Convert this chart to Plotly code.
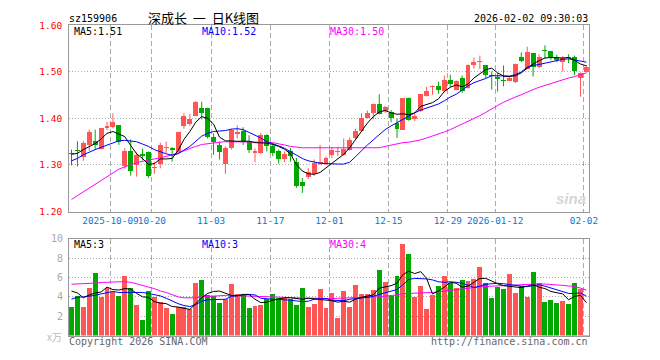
import plotly.graph_objects as go

# ---------------- data ----------------
tick_labels = ["2025-10-09", "10-20", "11-03", "11-17", "12-01", "12-15", "12-29", "2026-01-12", "02-02"]
tick_index = [7, 14, 24, 34, 44, 54, 64, 72, 87]

opens = [1.325, 1.332, 1.317, 1.342, 1.351, 1.335, 1.379, 1.382, 1.386, 1.297,
         1.331, 1.299, 1.324, 1.328, 1.294, 1.303, 1.336, 1.337, 1.328, 1.383,
         1.388, 1.406, 1.422, 1.422, 1.360, 1.342, 1.303, 1.336, 1.367, 1.374,
         1.350, 1.325, 1.326, 1.365, 1.340, 1.331, 1.312, 1.329, 1.307, 1.263,
         1.275, 1.281, 1.303, 1.303, 1.322, 1.327, 1.322, 1.333, 1.358, 1.374,
         1.402, 1.412, 1.431, 1.416, 1.414, 1.390, 1.376, 1.444, 1.399, 1.416,
         1.449, 1.467, 1.469, 1.458, 1.483, 1.462, 1.488, 1.465, 1.515, 1.522,
         1.514, 1.494, 1.490, 1.482, 1.481, 1.478, 1.533, 1.507, 1.540, 1.510,
         1.548, 1.544, 1.531, 1.521, 1.532, 1.533, 1.488, 1.500]
highs = [1.333, 1.351, 1.351, 1.376, 1.376, 1.380, 1.393, 1.411, 1.386, 1.336,
         1.355, 1.327, 1.335, 1.329, 1.307, 1.348, 1.350, 1.339, 1.371, 1.411,
         1.410, 1.437, 1.436, 1.423, 1.368, 1.350, 1.340, 1.378, 1.385, 1.381,
         1.364, 1.336, 1.369, 1.366, 1.346, 1.333, 1.329, 1.336, 1.315, 1.272,
         1.293, 1.312, 1.343, 1.318, 1.338, 1.339, 1.357, 1.359, 1.378, 1.411,
         1.417, 1.432, 1.452, 1.427, 1.418, 1.400, 1.444, 1.445, 1.410, 1.452,
         1.468, 1.471, 1.479, 1.492, 1.494, 1.482, 1.492, 1.516, 1.531, 1.535,
         1.514, 1.501, 1.497, 1.514, 1.490, 1.518, 1.542, 1.554, 1.540, 1.538,
         1.557, 1.544, 1.537, 1.534, 1.538, 1.535, 1.499, 1.515]
lows = [1.299, 1.297, 1.309, 1.330, 1.333, 1.333, 1.375, 1.379, 1.343, 1.292,
        1.277, 1.275, 1.310, 1.272, 1.281, 1.293, 1.325, 1.307, 1.327, 1.378,
        1.384, 1.405, 1.398, 1.357, 1.322, 1.312, 1.281, 1.333, 1.357, 1.343,
        1.326, 1.306, 1.324, 1.329, 1.319, 1.303, 1.306, 1.307, 1.251, 1.240,
        1.270, 1.277, 1.300, 1.300, 1.315, 1.319, 1.320, 1.331, 1.355, 1.372,
        1.400, 1.398, 1.409, 1.412, 1.392, 1.358, 1.375, 1.395, 1.394, 1.414,
        1.447, 1.451, 1.453, 1.456, 1.468, 1.460, 1.455, 1.464, 1.507, 1.506,
        1.487, 1.462, 1.458, 1.469, 1.480, 1.476, 1.521, 1.506, 1.490, 1.508,
        1.529, 1.526, 1.521, 1.501, 1.519, 1.493, 1.447, 1.499]
closes = [1.323, 1.329, 1.347, 1.370, 1.344, 1.379, 1.383, 1.393, 1.349, 1.331,
          1.287, 1.322, 1.319, 1.276, 1.296, 1.342, 1.339, 1.333, 1.371, 1.406,
          1.399, 1.436, 1.411, 1.361, 1.350, 1.327, 1.336, 1.376, 1.371, 1.351,
          1.333, 1.329, 1.365, 1.340, 1.326, 1.312, 1.324, 1.319, 1.255, 1.255,
          1.284, 1.305, 1.307, 1.314, 1.333, 1.329, 1.335, 1.353, 1.374, 1.402,
          1.412, 1.431, 1.410, 1.424, 1.400, 1.378, 1.444, 1.397, 1.406, 1.452,
          1.460, 1.469, 1.461, 1.483, 1.473, 1.481, 1.458, 1.515, 1.521, 1.524,
          1.493, 1.492, 1.485, 1.480, 1.488, 1.517, 1.523, 1.542, 1.510, 1.533,
          1.546, 1.533, 1.526, 1.530, 1.530, 1.501, 1.498, 1.510]
volumes = [3.0, 4.1, 2.9, 4.9, 6.5, 4.0, 4.9, 4.5, 4.1, 6.2,
           4.9, 3.2, 1.6, 4.6, 4.0, 3.5, 2.8, 2.2, 2.9, 3.0,
           2.7, 5.4, 5.7, 4.2, 4.1, 3.4, 3.8, 5.3, 4.3, 4.2,
           2.8, 3.1, 3.2, 3.8, 4.3, 3.9, 3.9, 3.8, 3.2, 4.9,
           3.0, 3.3, 4.8, 2.8, 4.4, 1.8, 4.6, 2.9, 5.2, 4.3,
           4.3, 4.7, 6.8, 5.5, 4.1, 6.2, 9.4, 8.4, 4.0, 5.1,
           2.7, 4.2, 5.1, 6.2, 5.4, 4.9, 5.7, 5.6, 5.8, 7.1,
           5.4, 3.9, 5.0, 4.8, 6.4, 4.4, 5.1, 4.0, 6.6, 5.4,
           3.5, 3.7, 3.4, 3.6, 3.3, 5.4, 4.8, 0.1]

ma5 = [1.323, 1.325, 1.333, 1.340, 1.346, 1.356, 1.368, 1.372, 1.367, 1.361,
       1.342, 1.324, 1.314, 1.301, 1.303, 1.313, 1.313, 1.314, 1.331, 1.355,
       1.372, 1.392, 1.404, 1.400, 1.388, 1.360, 1.352, 1.351, 1.351, 1.351,
       1.351, 1.348, 1.347, 1.347, 1.344, 1.340, 1.334, 1.324, 1.301, 1.287,
       1.281, 1.280, 1.284, 1.294, 1.305, 1.315, 1.323, 1.337, 1.355, 1.372,
       1.390, 1.404, 1.414, 1.417, 1.412, 1.409, 1.410, 1.408, 1.412, 1.426,
       1.430, 1.434, 1.442, 1.458, 1.467, 1.472, 1.468, 1.474, 1.487, 1.497,
       1.505, 1.508, 1.498, 1.491, 1.490, 1.492, 1.498, 1.508, 1.517, 1.524,
       1.530, 1.531, 1.530, 1.530, 1.531, 1.525, 1.517, 1.513]
ma10 = [1.309, 1.314, 1.322, 1.328, 1.333, 1.338, 1.343, 1.348, 1.352, 1.353,
        1.352, 1.350, 1.345, 1.340, 1.333, 1.328, 1.324, 1.321, 1.324, 1.332,
        1.340, 1.351, 1.362, 1.368, 1.372, 1.373, 1.374, 1.377, 1.378, 1.376,
        1.370, 1.364, 1.358, 1.350, 1.346, 1.341, 1.336, 1.329, 1.322, 1.314,
        1.309, 1.306, 1.304, 1.303, 1.302, 1.302, 1.302, 1.306, 1.318, 1.331,
        1.343, 1.354, 1.366, 1.376, 1.384, 1.391, 1.399, 1.406, 1.412, 1.418,
        1.422, 1.426, 1.431, 1.438, 1.446, 1.452, 1.462, 1.470, 1.477, 1.481,
        1.486, 1.492, 1.492, 1.491, 1.491, 1.494, 1.500, 1.510, 1.514, 1.516,
        1.519, 1.522, 1.525, 1.527, 1.528, 1.526, 1.523, 1.521]
ma30 = [1.226, 1.234, 1.242, 1.250, 1.258, 1.266, 1.274, 1.283, 1.291, 1.296,
        1.301, 1.305, 1.308, 1.311, 1.313, 1.315, 1.318, 1.322, 1.326, 1.331,
        1.336, 1.340, 1.344, 1.346, 1.347, 1.349, 1.350, 1.350, 1.350, 1.350,
        1.350, 1.350, 1.350, 1.349, 1.348, 1.346, 1.343, 1.340, 1.338, 1.337,
        1.337, 1.337, 1.337, 1.337, 1.337, 1.337, 1.337, 1.337, 1.337, 1.337,
        1.337, 1.337, 1.337, 1.340, 1.343, 1.346, 1.348, 1.349, 1.351, 1.354,
        1.358, 1.362, 1.366, 1.371, 1.376, 1.382, 1.387, 1.393, 1.399, 1.406,
        1.413, 1.421, 1.428, 1.435, 1.441, 1.446, 1.451, 1.457, 1.462, 1.467,
        1.471, 1.476, 1.480, 1.484, 1.487, 1.490, 1.494, 1.498]

vma5 = [4.60, 4.40, 3.90, 4.20, 4.40, 4.50, 5.00, 4.75, 4.70, 4.85,
        4.80, 4.35, 4.00, 3.95, 3.50, 3.35, 3.30, 3.00, 2.95, 2.80,
        2.70, 3.30, 3.90, 4.35, 4.55, 4.60, 4.35, 4.15, 4.10, 4.25,
        4.25, 3.75, 3.40, 3.45, 3.65, 3.80, 3.90, 3.90, 3.85, 3.75,
        3.85, 3.80, 3.70, 3.65, 3.60, 3.45, 3.55, 3.45, 3.75, 3.95,
        4.10, 4.20, 4.90, 5.00, 5.15, 5.40, 6.30, 6.65, 6.40, 6.60,
        5.90, 4.30, 4.60, 5.00, 5.50, 5.40, 5.00, 5.10, 5.50, 5.90,
        5.90, 5.60, 5.35, 5.15, 5.10, 5.05, 4.95, 5.10, 5.25, 5.00,
        4.85, 4.55, 4.40, 4.30, 3.70, 4.05, 4.15, 3.40]
vma10 = [3.77, 3.95, 4.00, 4.05, 4.15, 4.30, 4.45, 4.55, 4.45, 4.45,
         4.50, 4.50, 4.45, 4.35, 4.20, 4.10, 3.85, 3.55, 3.30, 3.10,
         3.00, 3.20, 3.55, 3.70, 3.72, 3.72, 3.75, 4.05, 4.15, 4.20,
         4.25, 4.20, 3.85, 3.78, 3.75, 3.72, 3.70, 3.65, 3.58, 3.50,
         3.55, 3.75, 3.80, 3.82, 3.65, 3.60, 3.60, 3.75, 3.85, 3.88,
         3.95, 4.05, 4.25, 4.40, 4.55, 4.75, 5.25, 5.80, 5.90, 5.90,
         5.85, 5.75, 5.55, 5.50, 5.55, 5.50, 5.40, 5.20, 4.95, 5.10,
         5.30, 5.35, 5.40, 5.35, 5.25, 5.20, 5.10, 5.05, 5.15, 5.25,
         5.10, 4.90, 4.70, 4.50, 4.35, 4.35, 4.40, 4.07]
vma30 = [5.30, 5.32, 5.35, 5.38, 5.42, 5.48, 5.52, 5.55, 5.55, 5.55,
         5.50, 5.35, 5.15, 5.00, 4.85, 4.60, 4.45, 4.20, 4.00, 3.90,
         3.88, 3.90, 4.00, 4.05, 4.10, 4.15, 4.15, 4.15, 4.12, 4.10,
         4.08, 4.05, 4.02, 4.00, 4.00, 3.98, 3.95, 3.92, 3.90, 3.88,
         3.85, 3.82, 3.80, 3.80, 3.82, 3.85, 3.86, 3.88, 3.90, 3.92,
         3.95, 3.98, 4.00, 4.05, 4.08, 4.20, 4.33, 4.35, 4.35, 4.35,
         4.38, 4.45, 4.52, 4.60, 4.68, 4.75, 4.85, 4.92, 5.00, 5.03,
         5.07, 5.10, 5.13, 5.17, 5.22, 5.27, 5.30, 5.32, 5.33, 5.33,
         5.32, 5.25, 5.22, 5.18, 5.12, 5.07, 4.90, 4.70]

price_ticks = [1.20, 1.30, 1.40, 1.50, 1.60]
vol_ticks = [2, 4, 6, 8, 10]

# ---------------- style ----------------
W, H = 660, 360
RED, GREEN = "#FF5555", "#00A800"
MONO = "DejaVu Sans Mono"
n = len(closes)
idx = list(range(n))
up = [c >= o for o, c in zip(opens, closes)]
colors = [RED if u else GREEN for u in up]


def px(x):
    return x / W


def py(y):
    return 1 - y / H


fig = go.Figure()

# candle bodies
body_base = [min(o, c) for o, c in zip(opens, closes)]
body_h = [max(abs(c - o), 0.0021) for o, c in zip(opens, closes)]

# wicks
for col, flag in ((RED, True), (GREEN, False)):
    wx, wy = [], []
    for i in idx:
        if up[i] == flag:
            wx += [i, i, None]
            wy += [lows[i], highs[i], None]
    fig.add_trace(go.Scatter(x=wx, y=wy, mode="lines", line=dict(color=col, width=1),
                             hoverinfo="skip", showlegend=False, xaxis="x", yaxis="y"))

fig.add_trace(go.Bar(x=idx, y=body_h, base=body_base, width=5 / 6,
                     marker=dict(color=colors, line=dict(width=0)),
                     hoverinfo="skip", showlegend=False, xaxis="x", yaxis="y"))

for arr, col in ((ma30, "#FF00FF"), (ma10, "#0000FF"), (ma5, "#000000")):
    fig.add_trace(go.Scatter(x=idx, y=arr, mode="lines", line=dict(color=col, width=1),
                             hoverinfo="skip", showlegend=False, xaxis="x", yaxis="y"))

# volume
fig.add_trace(go.Bar(x=idx, y=volumes, width=5 / 6,
                     marker=dict(color=colors, line=dict(width=0)),
                     hoverinfo="skip", showlegend=False, xaxis="x2", yaxis="y2"))
for arr, col in ((vma30, "#FF00FF"), (vma10, "#0000FF"), (vma5, "#000000")):
    fig.add_trace(go.Scatter(x=idx, y=arr, mode="lines", line=dict(color=col, width=1),
                             hoverinfo="skip", showlegend=False, xaxis="x2", yaxis="y2"))

xr = [-5 / 12, n - 1 + 5 / 12]
xt = [k - 5 / 12 for k in tick_index]
common_x = dict(range=xr, domain=[px(70), px(597)], tickvals=xt, showgrid=True,
                gridcolor="#AAAAAA", griddash="5px,3px", gridwidth=1, showline=True,
                mirror=True, linecolor="#999999", linewidth=1, zeroline=False,
                ticks="", fixedrange=True, tickangle=0)

fig.update_layout(
    width=W, height=H, margin=dict(l=0, r=0, t=0, b=0),
    paper_bgcolor="white", plot_bgcolor="white", bargap=0, barmode="overlay",
    hovermode=False,
    xaxis=dict(**common_x, anchor="y", ticktext=tick_labels,
               tickfont=dict(family=MONO, size=9.4, color="#0A78CC")),
    xaxis2=dict(**common_x, anchor="y2", showticklabels=False),
    yaxis=dict(domain=[py(212), py(20)], range=[1.20, 1.60], tickvals=price_ticks,
               ticktext=[f"{v:.2f}" for v in price_ticks],
               tickfont=dict(family=MONO, size=9.5, color="#FF0000"),
               showgrid=True, gridcolor="#AAAAAA", griddash="1px,2px", showline=True,
               mirror=True, linecolor="#999999", zeroline=False, ticks="",
               ticklabelstandoff=4, fixedrange=True),
    yaxis2=dict(domain=[py(340), py(240)], range=[0, 10], tickvals=vol_ticks,
                ticktext=[str(v) for v in vol_ticks],
                tickfont=dict(family=MONO, size=10, color="#AAAAAA"),
                showgrid=True, gridcolor="#AAAAAA", griddash="1px,2px", showline=True,
                mirror=True, linecolor="#999999", zeroline=False, ticks="",
                ticklabelstandoff=3, fixedrange=True),
)


def note(text, x, y, color="#000000", size=10, anchor="left", family=MONO, **kw):
    fig.add_annotation(text=text, x=px(x), y=py(y), xref="paper", yref="paper",
                       xanchor=anchor, yanchor="middle", showarrow=False,
                       font=dict(family=family, size=size, color=color), **kw)


note("sz159906", 68, 13)
note("深成长&nbsp;&nbsp;一&nbsp;&nbsp;日K线图", 206, 12, size=13, anchor="center",
     family="Noto Sans CJK SC")
note("2026-02-02 09:30:03", 598, 13, anchor="right")
note("MA5:1.51", 73, 26)
note("MA10:1.52", 203, 26, color="#0000FF")
note("MA30:1.50", 333, 26, color="#FF00FF")
note("MA5:3", 73, 246)
note("MA10:3", 203, 246, color="#0000FF")
note("MA30:4", 333, 246, color="#FF00FF")
note("x万", 65, 341, color="#BBBBBB", size=10, anchor="right", family="Noto Sans CJK SC")
note("Copyright 2026 SINA.COM", 68, 346, color="#666666")
note("http://finance.sina.com.cn", 598, 346, color="#666666", anchor="right")
note("<b><i>sina</i></b>", 579, 199, color="#D6D6D6", size=15, anchor="center",
     family="Liberation Sans")

fig.write_html("out.html",
               config={"displayModeBar": False, "staticPlot": True},
               post_script="document.body.style.margin='0px';"
                           "document.body.style.overflow='hidden';")
